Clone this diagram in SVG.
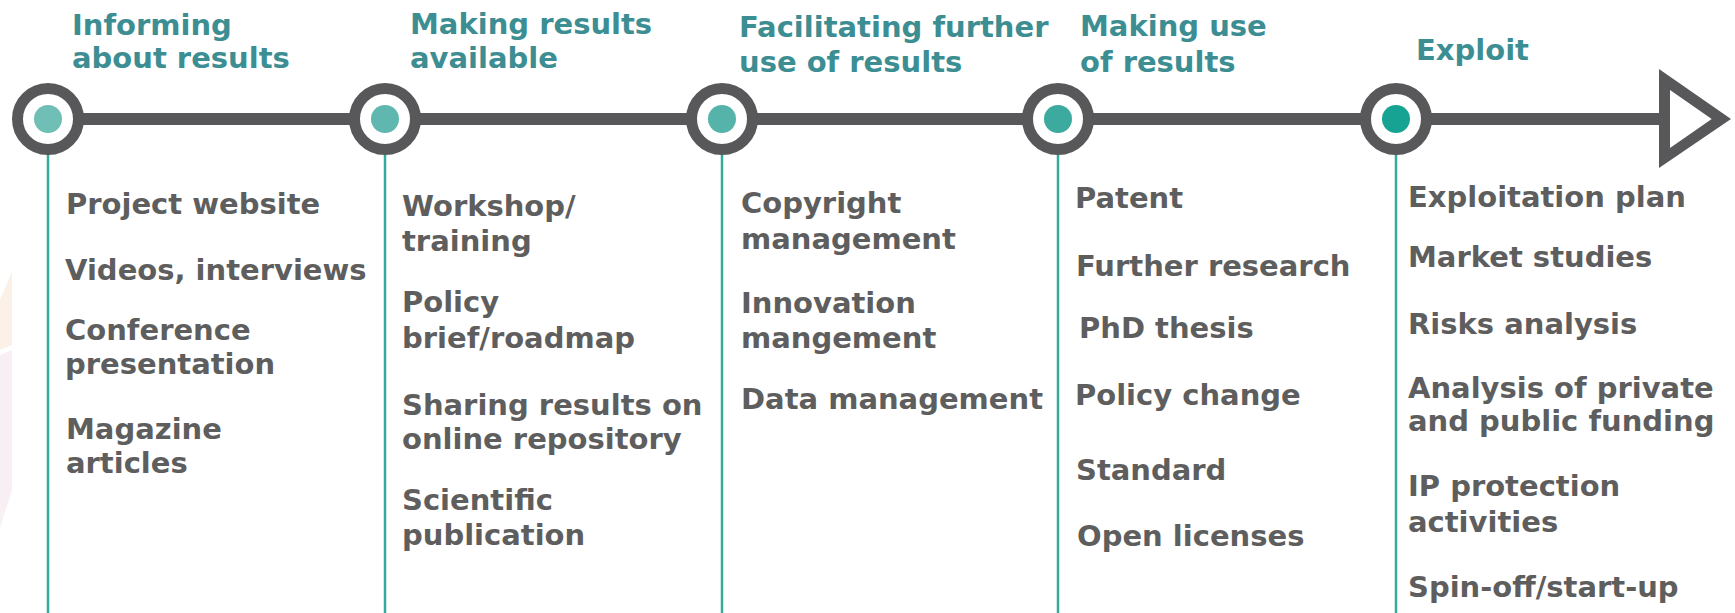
<svg xmlns="http://www.w3.org/2000/svg" width="1735" height="613" viewBox="0 0 1735 613">
  <style>
    .title { font-family: "DejaVu Sans", Verdana, sans-serif; font-weight: bold; font-size: 29px; fill: #3d8e93; }
    .item  { font-family: "DejaVu Sans", Verdana, sans-serif; font-weight: bold; font-size: 29px; fill: #5e5e5e; }
    .stem  { stroke: #35aa9c; stroke-width: 2.5; fill: none; }
    .ring  { fill: #ffffff; stroke: #58585a; stroke-width: 11; }
    .bar   { stroke: #58585a; stroke-width: 12; fill: none; }
  </style>

  <rect width="1735" height="613" fill="#ffffff"/>

  <!-- faint background mark at the left edge -->
  <g id="backdrop" opacity="0.55">
    <polygon points="0,300 12,272 12,345 0,350" fill="#fbe6d2"/>
    <polygon points="0,355 12,350 12,490 0,528" fill="#f1e3ec"/>
  </g>

  <!-- timeline bar with open arrow head -->
  <g id="connectors">
    <line class="bar" x1="48" y1="119" x2="1662" y2="119"/>
    <path d="M1659,69 L1731,119 L1659,168 Z M1670,90 L1670,148 L1711.7,119 Z" fill="#58585a" fill-rule="evenodd"/>
  </g>

  <!-- stage 1 -->
  <g id="stage-informing">
    <line class="stem" x1="48" y1="150" x2="48" y2="613"/>
    <circle class="ring" cx="48" cy="119" r="30.5"/>
    <circle cx="48" cy="119" r="14" fill="#70bfb7"/>
    <text class="title" x="72" y="35">Informing</text>
    <text class="title" x="72" y="68">about results</text>
    <text class="item" x="66" y="214">Project website</text>
    <text class="item" x="65" y="280">Videos, interviews</text>
    <text class="item" x="65" y="340">Conference</text>
    <text class="item" x="65" y="374">presentation</text>
    <text class="item" x="66" y="439">Magazine</text>
    <text class="item" x="66" y="473">articles</text>
  </g>

  <!-- stage 2 -->
  <g id="stage-available">
    <line class="stem" x1="385" y1="150" x2="385" y2="613"/>
    <circle class="ring" cx="385" cy="119" r="30.5"/>
    <circle cx="385" cy="119" r="14" fill="#5fb7af"/>
    <text class="title" x="410" y="34">Making results</text>
    <text class="title" x="410" y="68">available</text>
    <text class="item" x="402" y="216">Workshop/</text>
    <text class="item" x="402" y="251">training</text>
    <text class="item" x="402" y="312">Policy</text>
    <text class="item" x="402" y="348">brief/roadmap</text>
    <text class="item" x="402" y="415">Sharing results on</text>
    <text class="item" x="402" y="449">online repository</text>
    <text class="item" x="402" y="510">Scientific</text>
    <text class="item" x="402" y="545">publication</text>
  </g>

  <!-- stage 3 -->
  <g id="stage-facilitating">
    <line class="stem" x1="722" y1="150" x2="722" y2="613"/>
    <circle class="ring" cx="722" cy="119" r="30.5"/>
    <circle cx="722" cy="119" r="14" fill="#55b3aa"/>
    <text class="title" x="739" y="37">Facilitating further</text>
    <text class="title" x="739" y="72">use of results</text>
    <text class="item" x="741" y="213">Copyright</text>
    <text class="item" x="741" y="249">management</text>
    <text class="item" x="741" y="313">Innovation</text>
    <text class="item" x="741" y="348">mangement</text>
    <text class="item" x="741" y="409">Data management</text>
  </g>

  <!-- stage 4 -->
  <g id="stage-making-use">
    <line class="stem" x1="1058" y1="150" x2="1058" y2="613"/>
    <circle class="ring" cx="1058" cy="119" r="30.5"/>
    <circle cx="1058" cy="119" r="14" fill="#3caa9f"/>
    <text class="title" x="1080" y="36">Making use</text>
    <text class="title" x="1080" y="72">of results</text>
    <text class="item" x="1075" y="208">Patent</text>
    <text class="item" x="1076" y="276">Further research</text>
    <text class="item" x="1079" y="338">PhD thesis</text>
    <text class="item" x="1075" y="405">Policy change</text>
    <text class="item" x="1076" y="480">Standard</text>
    <text class="item" x="1077" y="546">Open licenses</text>
  </g>

  <!-- stage 5 -->
  <g id="stage-exploit">
    <line class="stem" x1="1396" y1="150" x2="1396" y2="613"/>
    <circle class="ring" cx="1396" cy="119" r="30.5"/>
    <circle cx="1396" cy="119" r="14" fill="#17a394"/>
    <text class="title" x="1416" y="60">Exploit</text>
    <text class="item" x="1408" y="207">Exploitation plan</text>
    <text class="item" x="1408" y="267">Market studies</text>
    <text class="item" x="1408" y="334">Risks analysis</text>
    <text class="item" x="1408" y="398">Analysis of private</text>
    <text class="item" x="1408" y="431">and public funding</text>
    <text class="item" x="1408" y="496">IP protection</text>
    <text class="item" x="1408" y="532">activities</text>
    <text class="item" x="1408" y="597">Spin-off/start-up</text>
  </g>
</svg>
